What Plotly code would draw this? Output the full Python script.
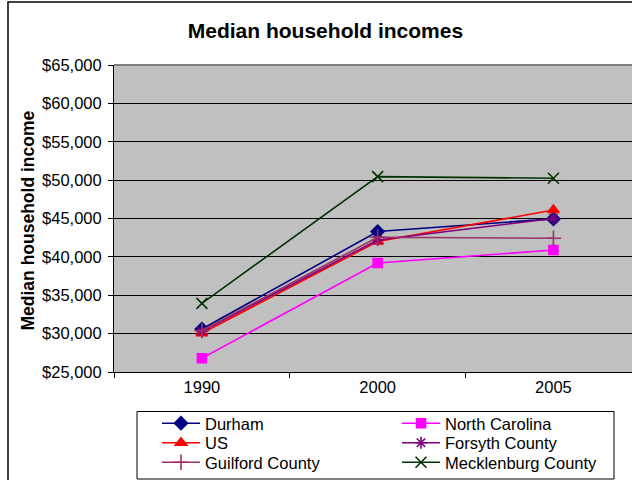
import plotly.graph_objects as go

# Survey years (category axis)
years = ["1990", "2000", "2005"]

# Median household income by area, in dollars
durham = [30600, 43300, 44950]
north_carolina = [26800, 39200, 40900]
us = [30050, 42000, 46100]
forsyth = [30300, 42200, 45000]
guilford = [30400, 42550, 42420]
mecklenburg = [33950, 50450, 50250]

y_ticks = [25000, 30000, 35000, 40000, 45000, 50000, 55000, 60000, 65000]

FONT = "Arial, Liberation Sans, sans-serif"

# plot area in pixels (used to place legend entries in paper units)
W, H = 632, 480
L, R, T, B = 114, 0, 65, 108
PW, PH = W - L - R, H - T - B


def px_x(x):
    return (x - L) / PW


def px_y(y):
    return (H - B - y) / PH


series = [
    ("Durham", durham, "#000080", "diamond", 10),
    ("North Carolina", north_carolina, "#FF00FF", "square", 9),
    ("US", us, "#FF0000", "triangle-up", 10),
    ("Forsyth County", forsyth, "#800080", "asterisk-open", 10),
    ("Guilford County", guilford, "#993366", "cross-thin-open", 11),
    ("Mecklenburg County", mecklenburg, "#003300", "x-thin-open", 11),
]

# legend entries laid out in two columns, three rows
col_x = [157, 397]
row_y = [423.5, 443, 462.5]

fig = go.Figure()
legends = {}
for i, (name, vals, color, symbol, size) in enumerate(series):
    key = "legend" if i == 0 else f"legend{i + 1}"
    fig.add_trace(go.Scatter(
        x=years, y=vals, name=name, mode="lines+markers",
        line=dict(color=color, width=1.6),
        marker=dict(symbol=symbol, size=size, color=color,
                    line=dict(color=color, width=1.6)),
        legend=key,
    ))
    legends[key] = dict(
        x=px_x(col_x[i % 2]), y=px_y(row_y[i // 2]),
        xanchor="left", yanchor="middle", itemwidth=38,
        bgcolor="rgba(0,0,0,0)", borderwidth=0,
        font=dict(family=FONT, size=16.5, color="black"),
    )

fig.update_layout(
    width=W, height=H,
    margin=dict(l=L, r=R, t=T, b=B),
    paper_bgcolor="white",
    plot_bgcolor="#C0C0C0",
    font=dict(family=FONT, size=16.5, color="black"),
    title=dict(text="<b>Median household incomes</b>",
               x=0.515, xanchor="center", y=1 - 31 / 480, yanchor="middle",
               font=dict(family=FONT, size=21, color="black")),
    showlegend=True,
    xaxis=dict(type="category", range=[-0.5, 2.447],
               tickson="boundaries", ticks="outside", ticklen=5, tickcolor="black",
               showline=True, linecolor="black", linewidth=1,
               showgrid=False, zeroline=False,
               tickfont=dict(family=FONT, size=16.5, color="black")),
    yaxis=dict(range=[25000, 65000], tickvals=y_ticks, tickformat="$,.0f",
               ticks="outside", ticklen=5, tickcolor="black", ticklabelstandoff=3,
               showline=True, linecolor="black", linewidth=1,
               showgrid=True, gridcolor="black", gridwidth=1, zeroline=False,
               tickfont=dict(family=FONT, size=16.5, color="black")),
    annotations=[dict(text="<b>Median household income</b>", textangle=-90,
                      xref="paper", yref="paper", x=px_x(27), y=px_y(220.5),
                      xanchor="center", yanchor="middle", showarrow=False,
                      font=dict(family=FONT, size=17.5, color="black"))],
    shapes=[
        # plot-area top border
        dict(type="line", xref="paper", yref="paper", x0=0, x1=1, y0=1, y1=1,
             line=dict(color="#808080", width=2)),
        # outer chart frame
        dict(type="rect", xref="paper", yref="paper", layer="below",
             x0=px_x(8), x1=px_x(700), y0=px_y(560), y1=px_y(2),
             line=dict(color="black", width=1.5)),
        # legend box
        dict(type="rect", xref="paper", yref="paper", layer="below",
             x0=px_x(137), x1=px_x(614), y0=px_y(479), y1=px_y(411.5),
             fillcolor="white", line=dict(color="black", width=1)),
    ],
    **legends,
)

fig.write_html("out.html")
